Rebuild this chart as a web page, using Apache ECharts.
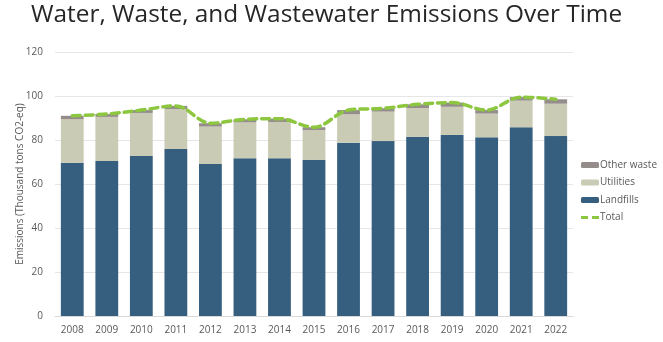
<!DOCTYPE html>
<html><head><meta charset="utf-8">
<script src="https://cdn.jsdelivr.net/npm/echarts@6/dist/echarts.min.js"></script>
<style>html,body{margin:0;padding:0;background:#fff}#c{width:663px;height:342px}</style>
</head><body><div id="c"></div>
<script>
var years = ['2008','2009','2010','2011','2012','2013','2014','2015','2016','2017','2018','2019','2020','2021','2022'];
var landfills = [69.7, 70.5, 72.7, 75.9, 69.1, 71.7, 71.7, 71.0, 78.8, 79.5, 81.5, 82.3, 81.2, 85.8, 81.8];
var utilities = [19.8, 20.0, 19.6, 18.2, 17.0, 16.3, 16.5, 13.5, 12.9, 13.4, 13.0, 12.8, 10.8, 12.1, 14.7];
var otherWaste = [1.5, 1.3, 1.3, 1.4, 1.5, 1.4, 1.5, 1.3, 1.9, 1.5, 1.7, 1.9, 1.6, 1.6, 2.0];
var total = [91.0, 91.8, 93.6, 95.5, 87.6, 89.4, 89.7, 85.8, 93.6, 94.4, 96.2, 97.0, 93.6, 99.5, 98.5];
var yTicks = [0, 20, 40, 60, 80, 100, 120];

var chart = echarts.init(document.getElementById('c'), null, {renderer: 'canvas'});
var font = 'Open Sans, Noto Sans, sans-serif';
chart.setOption({
  animation: false,
  title: {
    text: 'Water, Waste, and Wastewater Emissions Over Time',
    left: 26, top: -2,
    textStyle: {fontFamily: font, fontSize: 24.4, fontWeight: 'normal', color: '#262626'}
  },
  legend: {
    orient: 'vertical', left: 576, top: 155,
    itemWidth: 18, itemHeight: 6, itemGap: 7.5,
    textStyle: {fontFamily: font, fontSize: 10, color: '#595959', padding: [0,0,0,-4]},
    data: ['Other waste', 'Utilities', 'Landfills',
      {name: 'Total', icon: 'path://M0,0h7v3h-7z M11,0h7v3h-7z', itemStyle: {color: '#8dc63f'}}]
  },
  grid: {left: 55, right: 90, top: 52, bottom: 26, containLabel: false},
  xAxis: {
    type: 'category', data: years,
    axisLine: {lineStyle: {color: '#d9d9d9'}},
    axisTick: {show: false},
    axisLabel: {fontFamily: font, fontSize: 10, color: '#595959', margin: 9}
  },
  yAxis: {
    type: 'value', min: yTicks[0], max: yTicks[yTicks.length-1], interval: 20,
    name: 'Emissions (Thousand tons CO2-eq)', nameLocation: 'middle', nameGap: 30,
    nameMoveOverlap: false,
    nameTextStyle: {fontFamily: font, fontSize: 10, color: '#595959'},
    axisLine: {show: false}, axisTick: {show: false},
    axisLabel: {fontFamily: font, fontSize: 10, color: '#595959', margin: 12},
    splitLine: {lineStyle: {color: '#e6e6e6'}}
  },
  series: [
    {name: 'Landfills', type: 'bar', stack: 's', data: landfills, barWidth: '66%',
     itemStyle: {color: '#365e7e'}},
    {name: 'Utilities', type: 'bar', stack: 's', data: utilities,
     itemStyle: {color: '#cacbb4'}},
    {name: 'Other waste', type: 'bar', stack: 's', data: otherWaste,
     itemStyle: {color: '#948d8c'}},
    {name: 'Total', type: 'line', data: total, smooth: 0.35, symbol: 'none',
     itemStyle: {color: '#8dc63f'},
     lineStyle: {color: '#8dc63f', width: 3.5, type: [8, 5], cap: 'round'}, z: 5}
  ]
});
</script></body></html>
